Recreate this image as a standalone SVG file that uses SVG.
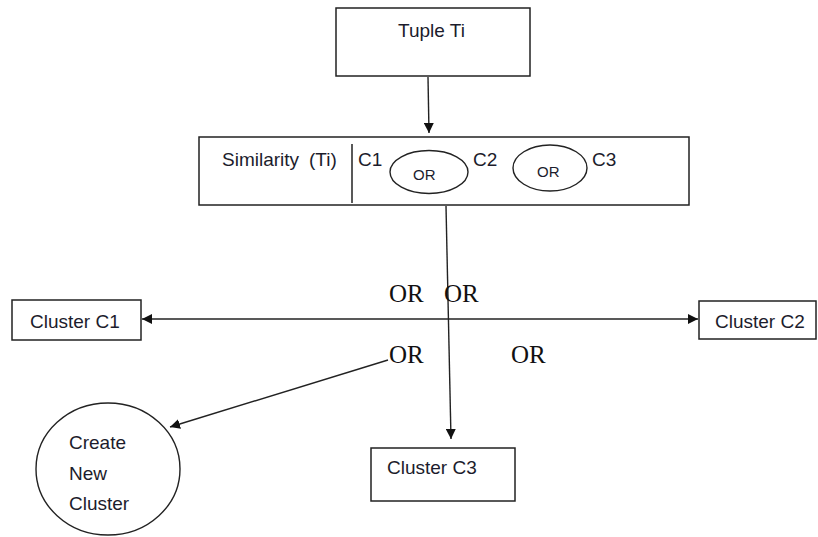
<svg xmlns="http://www.w3.org/2000/svg" width="818" height="537" viewBox="0 0 818 537">
  <defs>
    <marker id="arrow" viewBox="0 0 10 10" refX="10" refY="5" markerWidth="10" markerHeight="10" markerUnits="userSpaceOnUse" orient="auto-start-reverse">
      <path d="M0,0 L10,5 L0,10 Z" fill="#111"/>
    </marker>
  </defs>
  <style>
    .box { fill: #fff; stroke: #222; stroke-width: 1.5; }
    .lbl { font-family: "Liberation Sans", Arial, sans-serif; font-size: 19px; fill: #1c1c2c; }
    .small { font-family: "Liberation Sans", Arial, sans-serif; font-size: 15px; fill: #1c1c2c; }
    .or { font-family: "Liberation Serif", "Times New Roman", serif; font-size: 25px; fill: #111; }
    .conn { fill: none; stroke: #222; stroke-width: 1.4; }
  </style>
  <rect width="818" height="537" fill="#fff"/>

  <!-- connectors -->
  <g id="connectors">
    <line class="conn" x1="428" y1="77" x2="429" y2="133" marker-end="url(#arrow)"/>
    <line class="conn" x1="446" y1="206" x2="451" y2="439" marker-end="url(#arrow)"/>
    <line class="conn" x1="142" y1="319" x2="698" y2="319" marker-start="url(#arrow)" marker-end="url(#arrow)"/>
    <line class="conn" x1="388" y1="360" x2="170" y2="427" marker-end="url(#arrow)"/>
  </g>

  <!-- OR labels on the connectors -->
  <g id="or-labels">
    <text class="or" x="389" y="302">OR</text>
    <text class="or" x="444" y="302">OR</text>
    <text class="or" x="389" y="363">OR</text>
    <text class="or" x="511" y="363">OR</text>
  </g>

  <g id="tuple">
    <rect class="box" x="336" y="8" width="194" height="68"/>
    <text class="lbl" x="398" y="37">Tuple Ti</text>
  </g>

  <g id="similarity">
    <rect class="box" x="199" y="137" width="490" height="68"/>
    <line x1="352" y1="144" x2="352" y2="203" stroke="#222" stroke-width="1.5"/>
    <text class="lbl" y="166"><tspan x="222">Similarity</tspan><tspan x="309">(Ti)</tspan></text>
    <text class="lbl" x="358" y="166">C1</text>
    <ellipse cx="429" cy="172" rx="39" ry="21.5" fill="none" stroke="#222" stroke-width="1.4"/>
    <text class="small" x="413" y="180">OR</text>
    <text class="lbl" x="473" y="166">C2</text>
    <ellipse cx="550" cy="168" rx="37" ry="23" fill="none" stroke="#222" stroke-width="1.4"/>
    <text class="small" x="537" y="177">OR</text>
    <text class="lbl" x="592" y="166">C3</text>
  </g>

  <g id="cluster-c1">
    <rect class="box" x="12" y="300" width="129" height="40"/>
    <text class="lbl" x="30" y="328">Cluster C1</text>
  </g>

  <g id="cluster-c2">
    <rect class="box" x="699" y="301" width="117" height="38"/>
    <text class="lbl" x="715" y="328">Cluster C2</text>
  </g>

  <g id="cluster-c3">
    <rect class="box" x="371" y="448" width="144" height="53"/>
    <text class="lbl" x="387" y="474">Cluster C3</text>
  </g>

  <g id="new-cluster">
    <ellipse cx="108" cy="469" rx="72" ry="66" fill="#fff" stroke="#222" stroke-width="1.4"/>
    <text class="lbl" x="69" y="449">Create</text>
    <text class="lbl" x="69" y="480">New</text>
    <text class="lbl" x="69" y="510">Cluster</text>
  </g>
</svg>
